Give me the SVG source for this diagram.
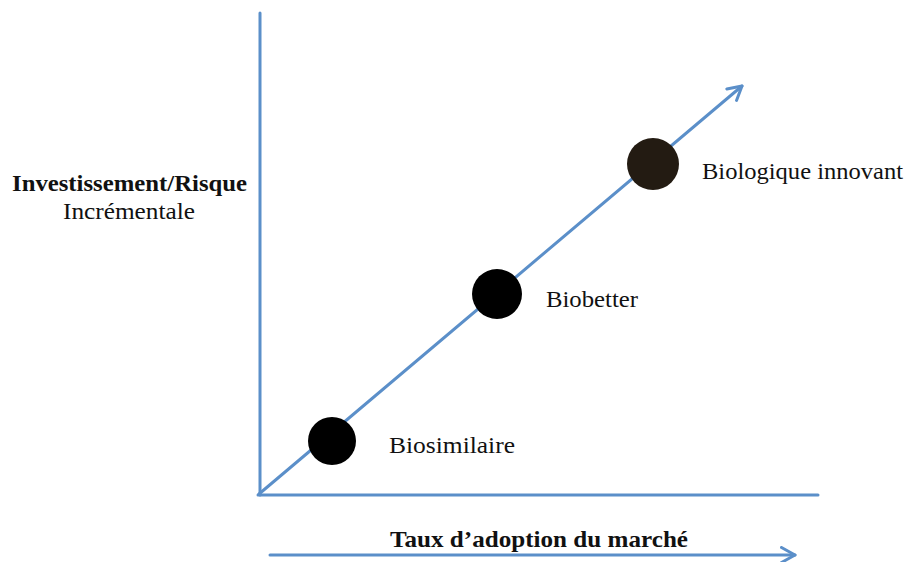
<svg xmlns="http://www.w3.org/2000/svg" width="908" height="562" viewBox="0 0 908 562">
  <style>
    .ax { stroke: #5b8fc9; stroke-width: 3; fill: none; stroke-linecap: round; }
    .lbl { font-family: "Liberation Serif", "Times New Roman", serif; fill: #111; font-size: 23px; }
    .b { font-weight: bold; }
  </style>
  <defs>
    <marker id="open" viewBox="0 0 12 12" refX="10" refY="6" markerWidth="6" markerHeight="6" orient="auto" markerUnits="strokeWidth">
      <path d="M1,1 L10,6 L1,11" fill="none" stroke="#5b8fc9" stroke-width="2" stroke-linecap="round" stroke-linejoin="round"/>
    </marker>
  </defs>
  <rect width="908" height="562" fill="#fff"/>
  <g id="connectors">
    <line class="ax" x1="260" y1="13" x2="260" y2="495"/>
    <line class="ax" x1="258" y1="495" x2="818" y2="495"/>
    <line class="ax" x1="259" y1="494" x2="742" y2="86" marker-end="url(#open)"/>
    <line class="ax" x1="270" y1="555" x2="795" y2="555" marker-end="url(#open)"/>
  </g>
  <g id="y-axis-label">
    <text class="lbl b" x="12" y="191" textLength="235" lengthAdjust="spacingAndGlyphs">Investissement/Risque</text>
    <text class="lbl" x="63" y="219" textLength="132" lengthAdjust="spacingAndGlyphs">Incrémentale</text>
  </g>
  <g id="x-axis-label">
    <text class="lbl b" x="390" y="547" textLength="298" lengthAdjust="spacingAndGlyphs">Taux d’adoption du marché</text>
  </g>
  <g id="biosimilaire">
    <circle cx="332" cy="441" r="24" fill="#000"/>
    <text class="lbl" x="389" y="453" textLength="126" lengthAdjust="spacingAndGlyphs">Biosimilaire</text>
  </g>
  <g id="biobetter">
    <circle cx="497" cy="294" r="25" fill="#000"/>
    <text class="lbl" x="546" y="307" textLength="92" lengthAdjust="spacingAndGlyphs">Biobetter</text>
  </g>
  <g id="biologique-innovant">
    <circle cx="653" cy="164" r="26" fill="#231b12"/>
    <text class="lbl" x="702" y="179" textLength="201" lengthAdjust="spacingAndGlyphs">Biologique innovant</text>
  </g>
</svg>
